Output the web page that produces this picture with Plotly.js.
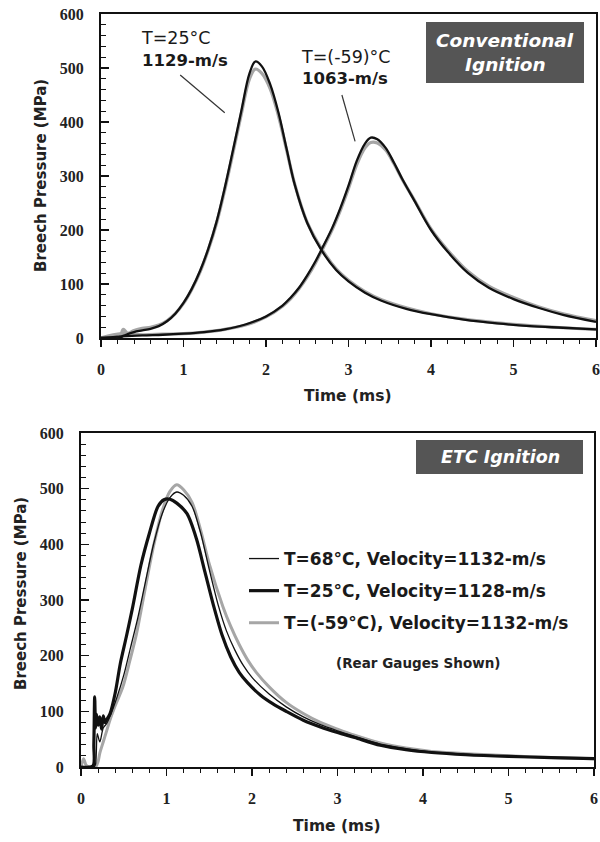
<!DOCTYPE html>
<html><head><meta charset="utf-8">
<script src="https://cdn.plot.ly/plotly-3.0.1.min.js"></script>
<style>html,body{margin:0;padding:0;background:#fff}</style>
</head><body><div id="chart" style="width:600px;height:842px"></div>
<script>
// ---------- Top chart: Conventional Ignition ----------
const top25Time = [0,0.22,0.27,0.32,0.4,0.5,0.6,0.7,0.8,0.9,1.0,1.1,1.2,1.3,1.4,1.5,1.6,1.7,1.8,1.87,1.95,2.05,2.15,2.25,2.35,2.5,2.67,2.85,3.0,3.2,3.4,3.7,4.0,4.4,4.8,5.2,5.6,6.0];
const top25Black = [0,0,4,7,11,14,17,22,31,45,65,91,124,165,215,278,348,420,490,512,503,470,418,350,283,213,163,126,105,84,69,54,44,34,27,22,19,16];
const top25Gray  = [0,0,16,9,14,18,20,24,32,45,64,90,122,163,212,274,343,414,480,498,490,462,412,348,284,214,166,128,107,86,71,56,45,35,28,23,19,16];

const topM59Time = [0,0.25,0.5,0.75,1.0,1.25,1.5,1.75,2.0,2.2,2.3,2.4,2.5,2.6,2.67,2.8,2.9,3.0,3.1,3.2,3.27,3.35,3.45,3.55,3.65,3.8,4.0,4.2,4.45,4.7,5.0,5.3,5.6,6.0];
const topM59Black = [0,3,5,6,8,11,16,25,40,60,75,93,116,142,163,203,240,282,328,360,371,368,352,325,295,254,200,160,120,93,72,56,43,30];
const topM59Gray  = [0,8,6,7,8,11,16,24,39,59,73,91,113,139,160,200,236,277,321,352,362,361,348,323,294,255,202,163,123,96,75,58,45,32];

// ---------- Bottom chart: ETC Ignition ----------
const etc25Time = [0,0.14,0.15,0.16,0.17,0.18,0.2,0.22,0.24,0.26,0.28,0.3,0.34,0.4,0.46,0.53,0.6,0.7,0.8,0.9,0.97,1.04,1.12,1.24,1.35,1.45,1.55,1.65,1.75,1.85,1.95,2.1,2.25,2.4,2.6,2.8,3.0,3.2,3.5,3.8,4.1,4.5,5.0,5.5,6.0];
const etc25P    = [0,2,40,126,70,95,75,90,68,92,80,85,96,133,186,234,284,362,420,468,480,481,474,455,410,350,290,237,198,170,151,129,113,100,84,72,62,53,39,31,26,22,19,17,15];

const etc68Time = [0,0.15,0.17,0.19,0.22,0.26,0.3,0.35,0.42,0.5,0.58,0.66,0.75,0.85,0.95,1.04,1.12,1.2,1.3,1.4,1.5,1.61,1.7,1.8,1.9,2.0,2.2,2.4,2.6,2.8,3.0,3.2,3.5,3.8,4.1,4.5,5.0,5.5,6.0];
const etc68P    = [0,0,5,60,45,70,78,95,125,165,215,265,330,401,455,484,494,488,468,420,355,288,245,210,182,161,131,108,90,76,65,55,41,33,27,23,19,17,15];

const etcM59Time = [0,0.03,0.06,0.1,0.17,0.2,0.22,0.26,0.3,0.34,0.4,0.49,0.57,0.65,0.75,0.85,0.95,1.04,1.12,1.2,1.3,1.4,1.5,1.66,1.75,1.85,1.95,2.05,2.2,2.4,2.6,2.8,3.0,3.2,3.5,3.8,4.1,4.5,5.0,5.5,6.0];
const etcM59P    = [0,15,3,0,0,10,25,45,65,85,110,144,190,240,320,398,460,495,507,498,475,425,365,288,253,220,192,170,144,116,96,80,68,57,43,34,28,24,20,17,15];

const xTicks = [0,1,2,3,4,5,6];
const yTicks = [0,100,200,300,400,500,600];
const legendNames = ['T=68°C, Velocity=1132-m/s','T=25°C, Velocity=1128-m/s','T=(-59°C), Velocity=1132-m/s'];

const W = 600, H = 842;
const px = v => v / W;
const py = v => 1 - v / H;
const SANS = 'DejaVu Sans';
const SERIF = 'Liberation Serif';
const INK = '#111';
const GRAY = '#a6a6a6';

function line(x, y, color, width, xa, ya, name, show, rank, smooth) {
  return {x, y, type:'scatter', mode:'lines', xaxis:xa, yaxis:ya, name: name || '',
    showlegend: !!show, legendrank: rank || 1000, legendgroup: name || undefined,
    line:{color, width, shape:'spline', smoothing: smooth || 0.8}, hoverinfo:'skip'};
}

const data = [
  line(top25Time, top25Gray, GRAY, 3.2, 'x', 'y', '', false, 0, 1),
  line(topM59Time, topM59Gray, GRAY, 3.2, 'x', 'y', '', false, 0, 1),
  line(top25Time, top25Black, INK, 2.3, 'x', 'y', '', false, 0, 1),
  line(topM59Time, topM59Black, INK, 2.3, 'x', 'y', '', false, 0, 1),
  line(etcM59Time, etcM59P, GRAY, 3, 'x2', 'y2', legendNames[2], true, 3),
  line(etc25Time, etc25P, INK, 3.2, 'x2', 'y2', legendNames[1], true, 2),
  line(etc68Time, etc68P, INK, 1.3, 'x2', 'y2', legendNames[0], true, 1)
];

function xAxis(dom, anchor) {
  return {domain:dom, anchor, range:[0,6], tickvals:xTicks, ticks:'outside', ticklen:7, tickwidth:1.5, tickcolor:INK,
    minor:{tick0:0, dtick:0.2, ticks:'outside', ticklen:4, tickwidth:1, tickcolor:INK},
    showline:true, linecolor:INK, linewidth:2, mirror:true, showgrid:false, zeroline:false,
    ticklabelstandoff:9, tickfont:{family:SERIF, size:16, weight:'bold', color:'#222'}};
}
function yAxis(dom, anchor) {
  return {domain:dom, anchor, range:[0,600], tickvals:yTicks, ticks:'inside', ticklen:8, tickwidth:1.5, tickcolor:INK,
    minor:{tick0:0, dtick:20, ticks:'inside', ticklen:5, tickwidth:1, tickcolor:INK},
    showline:true, linecolor:INK, linewidth:2, mirror:true, showgrid:false, zeroline:false,
    ticklabelstandoff:12, tickfont:{family:SERIF, size:16, weight:'bold', color:'#222'}};
}

function txt(text, x, y, size, opts) {
  return Object.assign({text, xref:'paper', yref:'paper', x:px(x), y:py(y), showarrow:false,
    xanchor:'left', yanchor:'middle', font:{family:SANS, size, color:'#1a1a1a'}}, opts || {});
}

const annotations = [
  // axis titles
  txt('Breech Pressure (MPa)', 41, 176, 15, {xanchor:'center', textangle:-90, font:{family:SANS, size:15, color:'#222', weight:'bold'}}),
  txt('Time (ms)', 348, 396, 15.5, {xanchor:'center', font:{family:SANS, size:15.5, color:'#222', weight:'bold'}}),
  txt('Breech Pressure (MPa)', 21, 594, 15, {xanchor:'center', textangle:-90, font:{family:SANS, size:15, color:'#222', weight:'bold'}}),
  txt('Time (ms)', 337, 826, 15.5, {xanchor:'center', font:{family:SANS, size:15.5, color:'#222', weight:'bold'}}),
  // top labels
  txt('T=25°C', 139, 38, 17.5),
  txt('1129-m/s', 140, 60, 16.5, {font:{family:SANS, size:16.5, color:'#1a1a1a', weight:'bold'}}),
  txt('T=(-59)°C', 299, 57, 17.5),
  txt('1063-m/s', 300, 79, 16.5, {font:{family:SANS, size:16.5, color:'#1a1a1a', weight:'bold'}}),
  // boxed titles
  txt('Conventional', 505, 40, 18.5, {xanchor:'center', font:{family:SANS, size:18.5, color:'#fff', weight:'bold', style:'italic'}}),
  txt('Ignition', 505, 64, 18.5, {xanchor:'center', font:{family:SANS, size:18.5, color:'#fff', weight:'bold', style:'italic'}}),
  txt('ETC Ignition', 500, 457, 17.5, {xanchor:'center', font:{family:SANS, size:17.5, color:'#fff', weight:'bold', style:'italic'}}),
  txt('(Rear Gauges Shown)', 418, 663, 13.5, {xanchor:'center', font:{family:SANS, size:13.5, color:'#222', weight:'bold'}})
];

const shapes = [
  {type:'rect', xref:'paper', yref:'paper', x0:px(426), x1:px(584), y0:py(83), y1:py(22), fillcolor:'#555', line:{width:0}, layer:'below'},
  {type:'rect', xref:'paper', yref:'paper', x0:px(416), x1:px(583), y0:py(474), y1:py(440), fillcolor:'#555', line:{width:0}, layer:'below'},
  {type:'line', xref:'x', yref:'y', x0:0.96, y0:487, x1:1.50, y1:417, line:{color:'#333', width:1.2}},
  {type:'line', xref:'x', yref:'y', x0:2.92, y0:450, x1:3.08, y1:364, line:{color:'#333', width:1.2}}
];

const layout = {
  width:W, height:H, autosize:false, margin:{l:0, r:0, t:0, b:0},
  paper_bgcolor:'#fff', plot_bgcolor:'rgba(0,0,0,0)',
  xaxis: xAxis([px(101), px(596)], 'y'),
  yaxis: yAxis([py(338), py(14)], 'x'),
  xaxis2: xAxis([px(81), px(594)], 'y2'),
  yaxis2: yAxis([py(767), py(433)], 'x2'),
  showlegend:true,
  legend:{x:px(244), y:py(541), xanchor:'left', yanchor:'top', bgcolor:'rgba(0,0,0,0)',
    font:{family:SANS, size:17, color:'#1a1a1a', weight:'bold'}, itemwidth:30, tracegroupgap:7,
    traceorder:'grouped'},
  annotations, shapes
};

Plotly.newPlot('chart', data, layout, {staticPlot:true, displayModeBar:false});
</script></body></html>
